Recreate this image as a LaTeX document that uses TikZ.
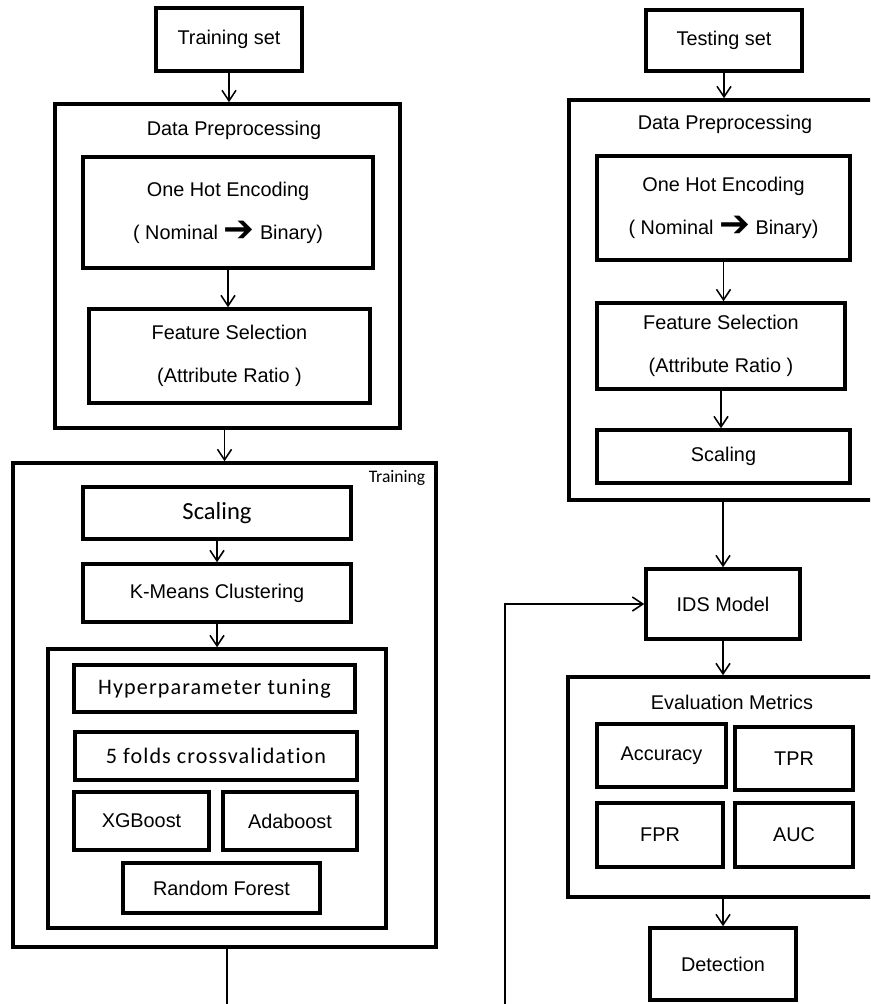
\documentclass[tikz,border=0pt]{standalone}
\usepackage{fontspec}
\setmainfont{Liberation Sans}
\newfontfamily\calibfont[Ligatures=NoCommon]{Carlito}
\newfontfamily\symfont{DejaVu Sans}
\usetikzlibrary{arrows.meta}

\newcommand{\bigarrow}{\raisebox{-0.2ex}{\fontsize{21}{21}\symfont ➔}}

\tikzset{
    >={Straight Barb[length=6pt,width=8pt]},
    bx/.style 2 args={draw, line width=2pt, inner sep=0pt,
        minimum width=#1*0.02cm, minimum height=#2*0.02cm},
    txt/.style={font=\fontsize{11.3}{14}\selectfont},
    twoline/.style={align=center, font=\fontsize{11.3}{24.5}\selectfont},
    cal/.style={font=\fontsize{12.6}{15}\calibfont\addfontfeature{LetterSpace=5}},
    flow/.style={->, line width=0.9pt},
    wire/.style={line width=0.9pt},
}

\begin{document}
\begin{tikzpicture}[x=0.02cm, y=-0.02cm]
    \clip (0,0) rectangle (870,1004);

    % training side
    \node[bx={146}{63}, txt] (trainset) at (229,39.5) {Training set};
    \node[bx={345}{324}] (dpL) at (227.5,266) {};
    \node[txt] (dpLtitle) at (234,130) {Data Preprocessing};
    \node[bx={290}{111}, twoline] (oheL) at (228,212.5)
        {One Hot Encoding\\( Nominal \bigarrow\ Binary)};
    \node[bx={281}{94}, twoline] (fsL) at (229.5,356)
        {Feature Selection\\(Attribute Ratio )};

    \node[bx={423}{484}] (training) at (224.5,705) {};
    \node[font=\fontsize{10}{12}\calibfont] (traininglabel) at (397,478) {Training};
    \node[bx={268}{52}, font=\fontsize{14}{16}\calibfont] (scL) at (217,513) {Scaling};
    \node[bx={268}{58}, txt] (km) at (217,593) {K-Means Clustering};
    \node[bx={338}{279}] (inner) at (217,788.5) {};
    \node[bx={281}{47}, cal] (hyp) at (214.5,688.5) {Hyperparameter tuning};
    \node[bx={282}{48}, cal] (cv) at (216,756) {5 folds crossvalidation};
    \node[bx={135}{58}, txt] (xgb) at (141.5,821) {XGBoost};
    \node[bx={134}{58}, txt] (ada) at (290,821) {Adaboost};
    \node[bx={197}{50}, txt] (rf) at (221.5,888) {Random Forest};

    \draw[flow] (trainset) -- (trainset |- dpL.north);
    \draw[flow] (oheL) -- (oheL |- fsL.north);
    \draw[flow] (dpL.south -| training) -- (training.north);
    \draw[flow] (scL) -- (km);
    \draw[flow] (km) -- (km |- inner.north);
    \coordinate (outL) at (227,1004);
    \draw[wire] (training.south -| outL) -- (outL);

    % testing side
    \node[bx={156}{61}, txt] (testset) at (724,40.5) {Testing set};
    \node[bx={309}{400}] (dpR) at (723.5,300) {};
    \node[txt] (dpRtitle) at (725,124) {Data Preprocessing};
    \node[bx={253}{104}, twoline] (oheR) at (723.5,208)
        {One Hot Encoding\\( Nominal \bigarrow\ Binary)};
    \node[bx={248}{86}, twoline] (fsR) at (721,346)
        {Feature Selection\\(Attribute Ratio )};
    \node[bx={253}{53}, txt] (scR) at (723.5,456.5) {Scaling};

    \node[bx={154}{70}, txt] (ids) at (723,604) {IDS Model};
    \node[bx={310}{220}] (eval) at (723,787) {};
    \node[txt] (evaltitle) at (732,702) {Evaluation Metrics};
    \node[bx={129}{63}, txt] (acc) at (661.5,755.5) {Accuracy};
    \node[bx={118}{63}, txt] (tpr) at (794,758.5) {TPR};
    \node[bx={126}{64}, txt] (fpr) at (660,835) {FPR};
    \node[bx={118}{64}, txt] (auc) at (794,835) {AUC};
    \node[bx={146}{72}, txt] (det) at (723,964) {Detection};

    \draw[flow] (testset) -- (testset |- dpR.north);
    \draw[flow] (oheR) -- (oheR |- fsR.north);
    \draw[flow] (fsR) -- (fsR |- scR.north);
    \draw[flow] (ids |- dpR.south) -- (ids);
    \draw[flow] (ids) -- (ids |- eval.north);
    \draw[flow] (det |- eval.south) -- (det);
    \coordinate (inR) at (505,1004);
    \draw[flow] (inR) |- (ids.west);
\end{tikzpicture}
\end{document}
